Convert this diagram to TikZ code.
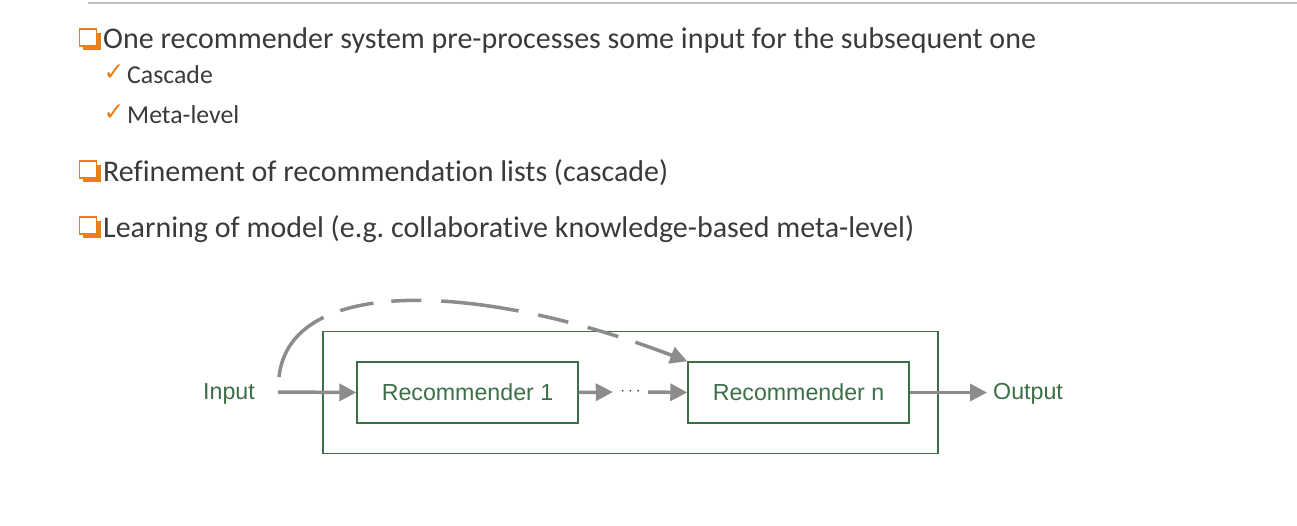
\documentclass[tikz,border=0pt]{standalone}
\usepackage{fontspec}
\setmainfont{Carlito}[Ligatures=NoCommon]
\newfontfamily\diagfont{Liberation Sans}
\newfontfamily\symfont{DejaVu Sans}
\usetikzlibrary{arrows.meta}
\definecolor{txt}{HTML}{3A3A3A}
\definecolor{orng}{HTML}{E8801A}
\definecolor{dgreen}{HTML}{3C6E47}
\definecolor{agray}{HTML}{8C8C8C}
\definecolor{rule}{HTML}{BFBFBF}
\frenchspacing
\tikzset{
  bodytext/.style={anchor=base west, inner sep=0pt, text=txt, font=\fontsize{30}{32}\selectfont},
  subtext/.style={anchor=base west, inner sep=0pt, text=txt, font=\fontsize{25.8}{28}\selectfont},
  checkmark/.style={anchor=base west, inner sep=0pt, text=orng, font=\symfont\bfseries\fontsize{25}{26}\selectfont},
  recbox/.style={draw=dgreen, line width=1.4pt, minimum width=221pt, minimum height=61pt, inner sep=0pt, text=dgreen, font=\diagfont\fontsize{23.2}{25}\selectfont},
  systembox/.style={draw=dgreen, line width=1.4pt, minimum width=615pt, minimum height=122pt, inner sep=0pt},
  plainlabel/.style={inner sep=0pt, text=dgreen, font=\diagfont\fontsize{23.2}{25}\selectfont},
  flow/.style={draw=agray, line width=3.5pt, -{Triangle[length=17pt,width=17pt]}},
  feedback/.style={draw=agray, line width=3.5pt,
    dash pattern=on 78pt off 18pt on 34pt off 18pt on 30pt off 20pt on 78pt off 20pt on 31pt off 20pt on 32pt off 18pt on 80pt,
    -{Triangle[length=17pt,width=17pt]}},
}
\newcommand{\qbox}[2]{%
  \fill[orng] (#1+3.5,#2+3.5) rectangle (#1+21,#2+21);
  \filldraw[fill=white, draw=orng, line width=1.8pt] (#1,#2) rectangle (#1+17,#2+17);
}
\begin{document}
\begin{tikzpicture}[x=1pt,y=-1pt]
\useasboundingbox (0,0) rectangle (1297,525);
% top rule
\draw[rule, line width=2pt] (88,3) -- (1297,3);
% bullets
\qbox{79.5}{29}
\node[bodytext] (l1) at (103,48.5) {One recommender system pre-processes some input for the subsequent one};
\node[checkmark] (c1) at (103.5,80) {✓};
\node[subtext] (s1) at (127,83) {Cascade};
\node[checkmark] (c2) at (103.5,120) {✓};
\node[subtext] (s2) at (127,123) {Meta-level};
\qbox{79.5}{161}
\node[bodytext] (l2) at (103,181) {Refinement of recommendation lists (cascade)};
\qbox{79.5}{217}
\node[bodytext] (l3) at (103,237) {Learning of model (e.g. collaborative knowledge-based meta-level)};
% diagram
\node[systembox] (sys) at (630.5,392.5) {};
\node[recbox] (r1) at (467.5,392.5) {Recommender 1};
\node[recbox] (rn) at (798.5,392.5) {Recommender n};
\node[plainlabel, anchor=base west] (in) at (203,399.5) {Input};
\coordinate (inout) at (278,392);
\node[plainlabel, anchor=base west, inner xsep=6pt] (out) at (987,399.5) {Output};
\node[inner sep=0pt, minimum width=35pt, minimum height=10pt, text=txt, font=\diagfont\fontsize{18}{20}\selectfont] (dots) at (630.5,392) {$\cdots$};
\coordinate (dstart) at (279,377);
\draw[flow] (inout) -- (r1.west);
\draw[flow] (r1.east) -- (dots.west);
\draw[flow] (dots.east) -- (rn.west);
\draw[flow] (rn.east) -- (rn.east -| out.west);
\draw[feedback] (dstart) .. controls (290,275) and (480,282) .. (rn.north west);
\end{tikzpicture}
\end{document}
